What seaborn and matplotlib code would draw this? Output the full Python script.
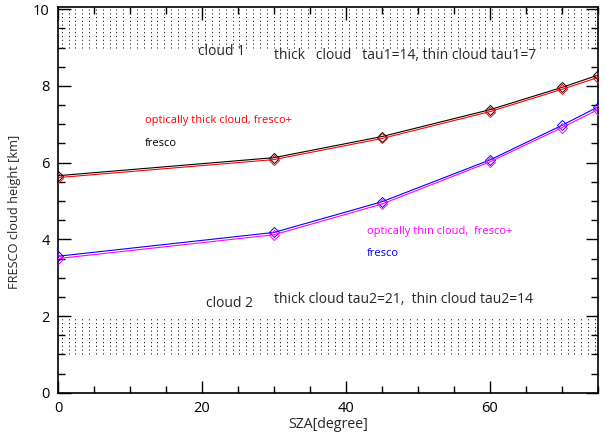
import numpy as np
import pandas as pd
import matplotlib
matplotlib.use("Agg")
import matplotlib.pyplot as plt
import seaborn as sns
from matplotlib.ticker import MultipleLocator

sza = [0, 30, 45, 60, 70, 75]
thick_fresco = [5.66, 6.13, 6.68, 7.38, 7.96, 8.28]
thick_frescoplus = [5.61, 6.08, 6.63, 7.33, 7.91, 8.22]
thin_fresco = [3.56, 4.18, 4.98, 6.07, 6.97, 7.45]
thin_frescoplus = [3.50, 4.12, 4.92, 6.02, 6.91, 7.38]

series_names = ["thick_fresco", "thick_frescoplus", "thin_fresco", "thin_frescoplus"]
series_colors = {"thick_fresco": "#000000", "thick_frescoplus": "#ff0000",
                 "thin_fresco": "#0000ff", "thin_frescoplus": "#ff00ff"}

df = pd.DataFrame({
    "SZA": sza * 4,
    "height": thick_fresco + thick_frescoplus + thin_fresco + thin_frescoplus,
    "series": sum([[n] * len(sza) for n in series_names], []),
})

cloud1 = (9.0, 10.0)
cloud2 = (1.0, 2.0)

sns.set_theme(style="ticks")
plt.rcParams['font.family'] = ['Open Sans', 'DejaVu Sans']

fig = plt.figure(figsize=(6.05, 4.34), dpi=100)
ax = fig.add_axes([0.096, 0.095, 0.892, 0.889])

# dotted cloud bands
def band(lo, hi, step):
    xs = np.arange(0.5, 75, step)
    ax.vlines(xs, lo, hi, colors="#1a1a1a", linewidth=0.7,
              linestyles=[(0, (1.2, 2.7))], zorder=1)

band(*cloud1, 0.95)
band(*cloud2, 0.95)

sns.lineplot(data=df, x="SZA", y="height", hue="series", palette=series_colors,
             marker="D", markersize=5, markerfacecolor="none", markeredgewidth=0.7,
             linewidth=0.8, legend=False, ax=ax, zorder=3)
for line, n in zip(ax.get_lines(), series_names):
    line.set_markeredgecolor(series_colors[n])

ax.set_xlim(0, 75)
ax.set_ylim(0, 10.06)
ax.xaxis.set_major_locator(MultipleLocator(20))
ax.xaxis.set_minor_locator(MultipleLocator(5))
ax.yaxis.set_major_locator(MultipleLocator(2))
ax.yaxis.set_minor_locator(MultipleLocator(0.5))
ax.tick_params(which="both", direction="in", top=True, right=True,
               labelsize=10.5, colors="black", width=1.0, pad=6)
ax.tick_params(which="major", length=9)
ax.tick_params(which="minor", length=5)
for s in ax.spines.values():
    s.set_visible(True)
    s.set_linewidth(1.2)
    s.set_color("black")

ax.set_xlabel("SZA[degree]", fontsize=10.2, labelpad=1)
ax.set_ylabel("FRESCO cloud height [km]", fontsize=9.2, labelpad=9)
ax.yaxis.set_label_coords(-0.068, 0.47)

ax.text(19.5, 8.91, "cloud 1", fontsize=10, va="center", ha="left")
ax.text(30.0, 8.80, "thick   cloud   tau1=14, thin cloud tau1=7", fontsize=10, va="center", ha="left")
ax.text(12.1, 7.09, "optically thick cloud, fresco+", fontsize=8, color="#ff0000", va="center")
ax.text(12.1, 6.51, "fresco", fontsize=8, color="black", va="center")
ax.text(42.9, 4.21, "optically thin cloud,  fresco+", fontsize=8, color="#ff00ff", va="center")
ax.text(42.9, 3.64, "fresco", fontsize=8, color="#0000ff", va="center")
ax.text(20.6, 2.33, "cloud 2", fontsize=10, va="center", ha="left")
ax.text(30.0, 2.44, "thick cloud tau2=21,  thin cloud tau2=14", fontsize=10, va="center", ha="left")

fig.savefig("out.png", dpi=100)
